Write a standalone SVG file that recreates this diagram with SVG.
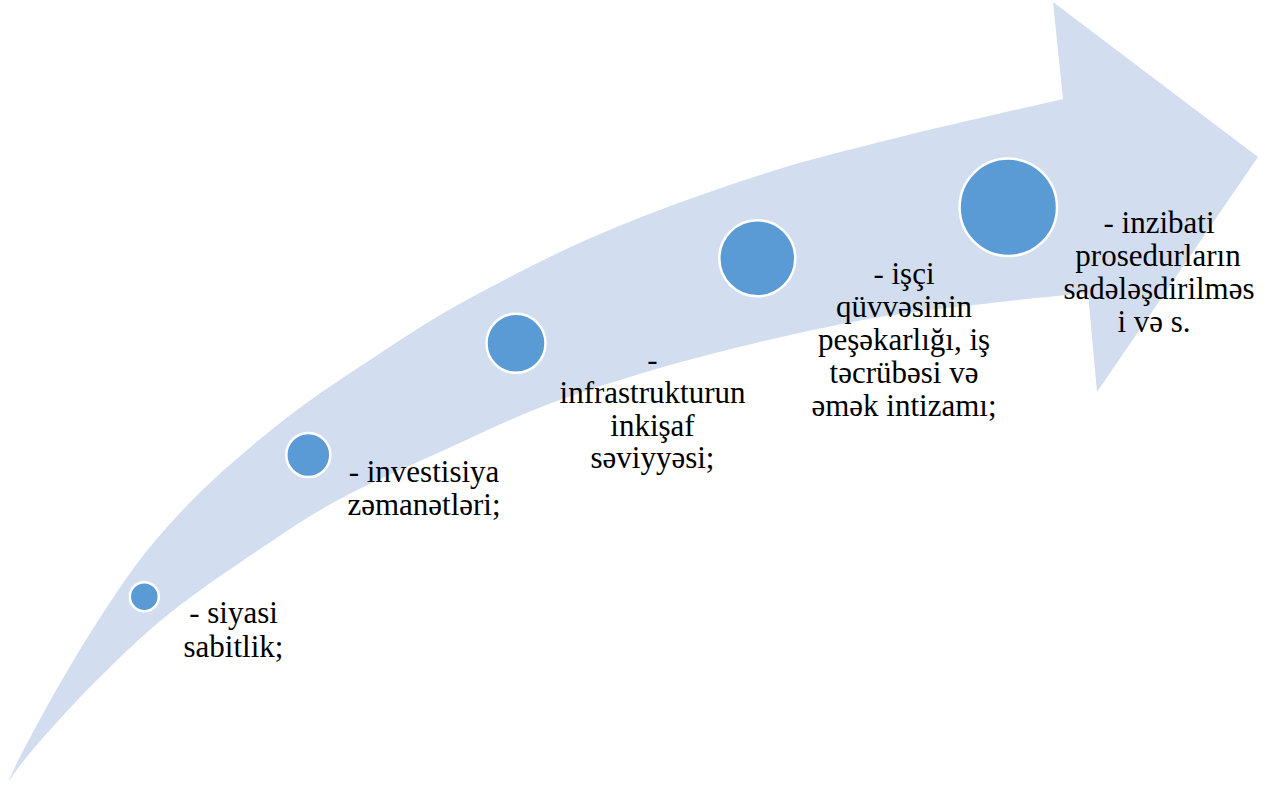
<svg xmlns="http://www.w3.org/2000/svg" width="1277" height="787" viewBox="0 0 1277 787">
<style>
.band{fill:#D2DEEF;stroke:none}
.dot{fill:#5B9BD5;stroke:#ffffff;stroke-width:2.5}
.lbl{font-family:"Liberation Serif","DejaVu Serif",serif;font-size:31px;fill:#000000;text-anchor:middle}
</style>
<rect x="0" y="0" width="1277" height="787" fill="#ffffff"/>
<g id="arrow">
<path class="band" d="M 8,782 C 10.8,776.2 16,764 25,747 C 34,730 49,702.3 62,680 C 75,657.7 88.3,635.2 103,613 C 117.7,590.8 131.7,569.2 150,547 C 168.3,524.8 189.2,502.3 213,480 C 236.8,457.7 266.8,433 293,413 C 319.2,393 341.7,378.5 370,360 C 398.3,341.5 424.7,323 463,302 C 501.3,281 550.5,255.2 600,234 C 649.5,212.8 710,191.2 760,175 C 810,158.8 849.5,149.7 900,137 C 950.5,124.3 1035.8,105.3 1063,99 L 1053,2 L 1258,157 L 1097,392 L 1088,293 C 1073.3,294.5 1037.5,297.5 1000,302 C 962.5,306.5 913,310.8 863,320 C 813,329.2 751,343.5 700,357 C 649,370.5 600.3,385.2 557,401 C 513.7,416.8 476.2,435.7 440,452 C 403.8,468.3 369.5,483.2 340,499 C 310.5,514.8 291.3,528 263,547 C 234.7,566 197.7,590.8 170,613 C 142.3,635.2 119.5,657.7 97,680 C 74.5,702.3 49.8,730 35,747 C 20.2,764 12.5,776.2 8,782 Z"/>
</g>
<g id="node1">
<circle class="dot" cx="144.3" cy="596.7" r="14.5"/>
<text class="lbl"><tspan x="233.5" y="623">- siyasi</tspan><tspan x="233.5" y="656.5">sabitlik;</tspan></text>
</g>
<g id="node2">
<circle class="dot" cx="308.3" cy="455" r="22"/>
<text class="lbl"><tspan x="424" y="482">- investisiya</tspan><tspan x="424" y="515">zəmanətləri;</tspan></text>
</g>
<g id="node3">
<circle class="dot" cx="516" cy="343.3" r="29.5"/>
<text class="lbl"><tspan x="652.5" y="370">-</tspan><tspan x="652.5" y="403">infrastrukturun</tspan><tspan x="652.5" y="436">inkişaf</tspan><tspan x="652.5" y="468">səviyyəsi;</tspan></text>
</g>
<g id="node4">
<circle class="dot" cx="757.3" cy="258.3" r="38"/>
<text class="lbl"><tspan x="904" y="284">- işçi</tspan><tspan x="904" y="317">qüvvəsinin</tspan><tspan x="904" y="350">peşəkarlığı,  iş</tspan><tspan x="904" y="383">təcrübəsi və</tspan><tspan x="904" y="416">əmək intizamı;</tspan></text>
</g>
<g id="node5">
<circle class="dot" cx="1008.3" cy="207.3" r="48.7"/>
<text class="lbl"><tspan x="1159" y="233">- inzibati</tspan><tspan x="1158" y="266">prosedurların</tspan><tspan x="1159" y="299">sadələşdirilməs</tspan><tspan x="1154" y="332">i və s.</tspan></text>
</g>
</svg>
